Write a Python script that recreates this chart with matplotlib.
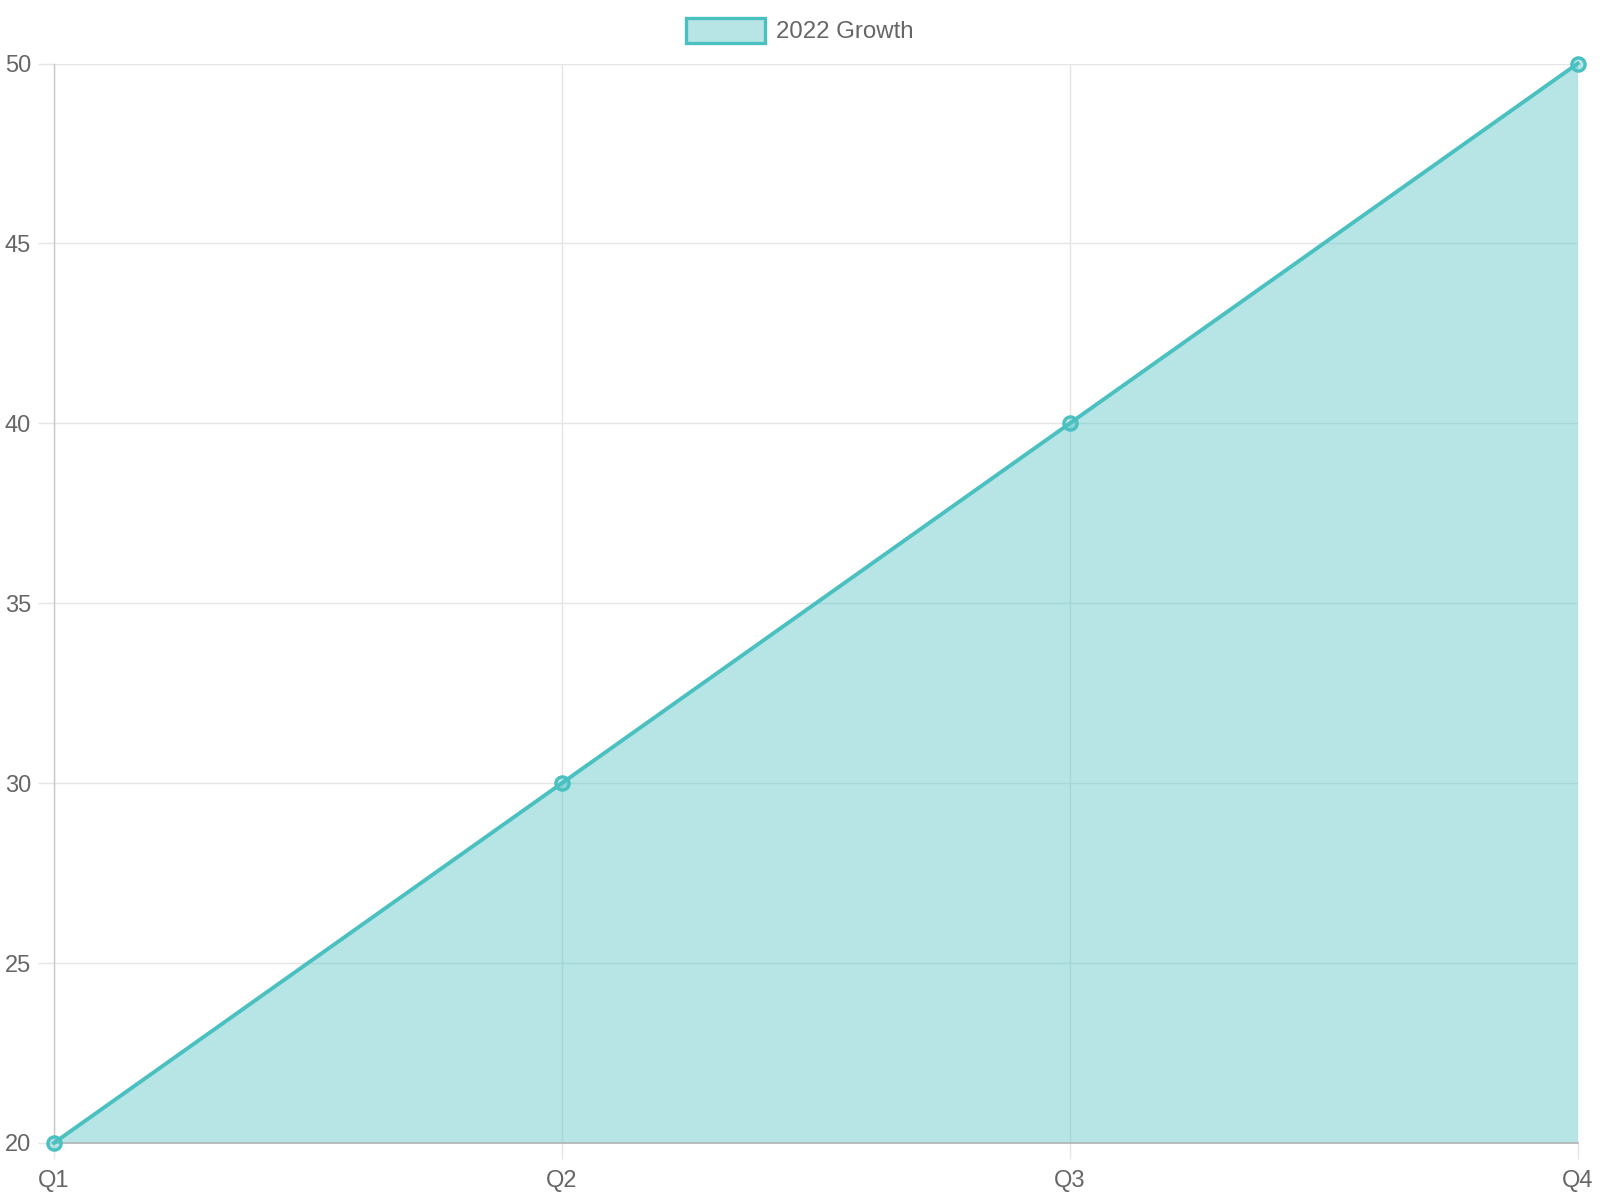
import matplotlib.pyplot as plt
from matplotlib.patches import Patch

quarters = ['Q1', 'Q2', 'Q3', 'Q4']
growth_2022 = [20, 30, 40, 50]

teal = (75 / 255, 192 / 255, 192 / 255)
teal_fill = (75 / 255, 192 / 255, 192 / 255, 0.4)
grid_col = '#e5e5e5'
text_col = '#666666'

plt.rcParams['font.family'] = ['Liberation Sans', 'DejaVu Sans']

fig = plt.figure(figsize=(16, 12), dpi=100)
ax = fig.add_axes([0.0338, 0.0476, 0.986 - 0.0338, 0.947 - 0.0476])

x = list(range(len(quarters)))
ax.fill_between(x, growth_2022, 20, color=teal_fill, linewidth=0)
ax.plot(x, growth_2022, color=teal, linewidth=2.8, marker='o', markersize=9.5,
        markerfacecolor=teal_fill, markeredgecolor=teal, markeredgewidth=2.4,
        clip_on=False, zorder=5)

ax.set_xlim(0, 3)
ax.set_ylim(20, 50)
ax.set_xticks(x)
ax.set_xticklabels(quarters)
ax.set_yticks(range(20, 51, 5))

ax.grid(True, color=grid_col, linewidth=1.0)
ax.set_axisbelow(True)
for side in ['top', 'right']:
    ax.spines[side].set_visible(False)
ax.spines['left'].set_color('#c8c8c8')
ax.spines['bottom'].set_color('#b4b4b4')
ax.spines['left'].set_linewidth(1.0)
ax.spines['bottom'].set_linewidth(1.2)

ax.tick_params(axis='both', length=11.5, width=1.0, color=grid_col,
               labelcolor=text_col, labelsize=17)
ax.tick_params(axis='y', pad=5)
ax.tick_params(axis='x', pad=8)

handle = Patch(facecolor=teal_fill, edgecolor=teal, linewidth=2.4, label='2022 Growth')
fig.legend(handles=[handle], loc='upper center', bbox_to_anchor=(0.5, 1.003),
           frameon=False, fontsize=17.3, labelcolor=text_col,
           handlelength=3.3, handleheight=1.2, handletextpad=0.45)

fig.savefig('out.png', dpi=100)
